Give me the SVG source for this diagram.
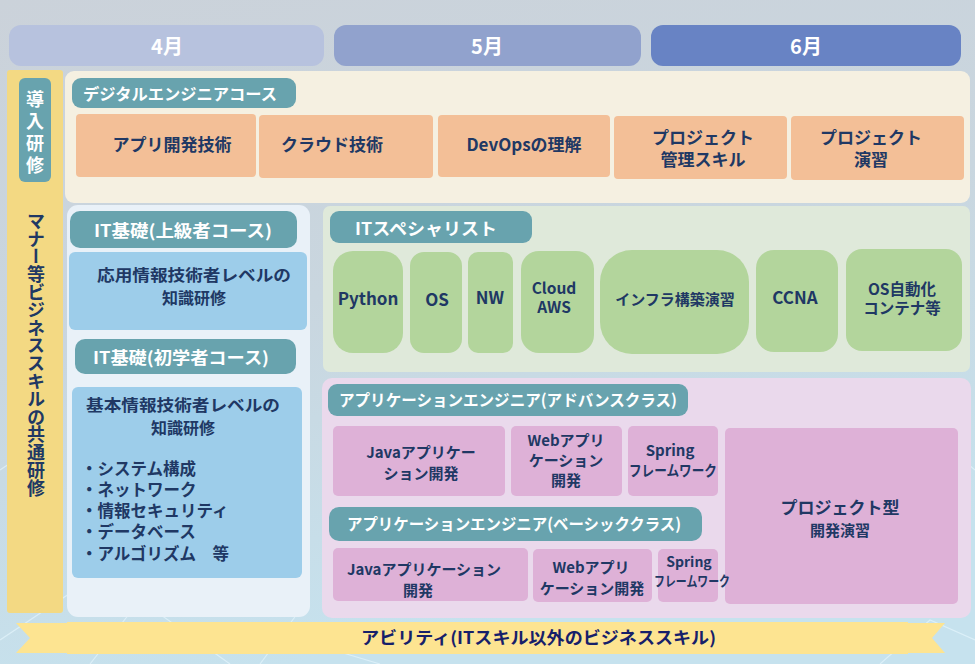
<svg xmlns="http://www.w3.org/2000/svg" width="975" height="664" viewBox="0 0 975 664">
<defs>
<linearGradient id="bg" x1="0" y1="0" x2="0.3" y2="1">
<stop offset="0" stop-color="#cbd2da"/>
<stop offset="0.5" stop-color="#c9d6df"/>
<stop offset="1" stop-color="#c6e2ee"/>
</linearGradient>
<style>
text{font-family:"Noto Sans CJK JP","Noto Sans",sans-serif;font-weight:bold;}
.nv{fill:#203864;font-size:16px;}
.wh{fill:#ffffff;font-size:16px;}
.c{text-anchor:middle;dominant-baseline:central;}
.l{dominant-baseline:central;}
.teal{fill:#68a3ae;}
.org{fill:#f3bf97;}
.grn{fill:#b3d59c;}
.pnk{fill:#deb1d7;}
.lb{fill:#9dcdea;}
.net{stroke:#eaf8ff;stroke-width:1.2;opacity:0.6;fill:none;}
</style>
</defs>
<rect x="0" y="0" width="975" height="664" fill="url(#bg)"/>
<g id="network">
<path class="net" d="M0 640 L120 560 L300 600 M0 470 L60 430 M90 664 L140 600 L230 664 M300 640 L380 664 M880 664 L930 620 L975 640 M940 440 L975 470 M260 664 L300 610"/>
</g>
<g id="months">
<rect x="9" y="25" width="315" height="41" rx="12" fill="#b7c2de"/>
<text class="wh c" x="167" y="45" style="font-size:20px">4月</text>
<rect x="334" y="25" width="307" height="41" rx="12" fill="#91a2cd"/>
<text class="wh c" x="487" y="45" style="font-size:20px">5月</text>
<rect x="651" y="25" width="310" height="41" rx="12" fill="#6883c4"/>
<text class="wh c" x="806" y="45" style="font-size:20px">6月</text>
</g>
<g id="common-training">
<rect x="7" y="70" width="56" height="543" rx="3" fill="#f3d983"/>
<rect x="19" y="78" width="32" height="104" rx="6" class="teal"/>
<text x="35" y="90" class="wh" style="font-size:18px;writing-mode:vertical-rl;letter-spacing:4px">導入研修</text>
<text x="36" y="212" class="nv" style="font-size:18px;writing-mode:vertical-rl;letter-spacing:-0.2px">マナー等ビジネススキルの共通研修</text>
</g>
<g id="digital-course">
<rect x="65" y="71" width="905" height="132" rx="9" fill="#f5f0e1"/>
<rect x="72" y="78" width="224" height="30" rx="9" class="teal"/>
<text class="wh l" x="83" y="93" textLength="194" lengthAdjust="spacingAndGlyphs">デジタルエンジニアコース</text>
</g>
<g id="d1"><rect x="76" y="114" width="180" height="63" rx="4" class="org"/><text class="nv c" x="172" y="143" style="font-size:17px">アプリ開発技術</text></g>
<g id="d2"><rect x="259" y="115" width="174" height="63" rx="4" class="org"/><text class="nv c" x="332" y="143" style="font-size:17px">クラウド技術</text></g>
<g id="d3"><rect x="438" y="115" width="172" height="62" rx="4" class="org"/><text class="nv c" x="524" y="143" style="font-size:17px">DevOpsの理解</text></g>
<g id="d4"><rect x="614" y="116" width="173" height="63" rx="4" class="org"/><text class="nv c" x="703" y="136" style="font-size:17px">プロジェクト</text><text class="nv c" x="703" y="158" style="font-size:17px">管理スキル</text></g>
<g id="d5"><rect x="791" y="116" width="173" height="64" rx="4" class="org"/><text class="nv c" x="871" y="136" style="font-size:17px">プロジェクト</text><text class="nv c" x="871" y="158" style="font-size:17px">演習</text></g>
<g id="it-basic">
<rect x="67" y="205" width="243" height="412" rx="11" fill="#e9f1f8"/>
</g>
<g id="it-adv-label"><rect x="70" y="211" width="227" height="37" rx="10" class="teal"/><text class="wh c" x="183" y="229" style="font-size:17px" textLength="178" lengthAdjust="spacingAndGlyphs">IT基礎(上級者コース)</text></g>
<g id="it-adv"><rect x="69" y="252" width="238" height="78" rx="6" class="lb"/><text class="nv c" x="194" y="274" textLength="194" lengthAdjust="spacingAndGlyphs">応用情報技術者レベルの</text><text class="nv c" x="194" y="297">知識研修</text></g>
<g id="it-beg-label"><rect x="75" y="339" width="221" height="35" rx="10" class="teal"/><text class="wh c" x="181" y="356" style="font-size:17px" textLength="176" lengthAdjust="spacingAndGlyphs">IT基礎(初学者コース)</text></g>
<g id="it-beg"><rect x="72" y="387" width="230" height="191" rx="6" class="lb"/>
<text class="nv c" x="183" y="404" textLength="194" lengthAdjust="spacingAndGlyphs">基本情報技術者レベルの</text>
<text class="nv c" x="183" y="427">知識研修</text>
<text class="nv l" x="81" y="468" style="font-size:16.5px">・システム構成</text>
<text class="nv l" x="81" y="489" style="font-size:16.5px">・ネットワーク</text>
<text class="nv l" x="81" y="510" style="font-size:16.5px">・情報セキュリティ</text>
<text class="nv l" x="81" y="531" style="font-size:16.5px">・データベース</text>
<text class="nv l" x="81" y="553" style="font-size:16.5px">・アルゴリズム　等</text>
</g>
<g id="specialist">
<rect x="323" y="206" width="647" height="166" rx="7" fill="#dfe9da"/>
<rect x="330" y="211" width="202" height="32" rx="9" class="teal"/>
<text class="wh l" x="355" y="227" style="font-size:17px" textLength="142" lengthAdjust="spacingAndGlyphs">ITスペシャリスト</text>
</g>
<g id="s1"><rect x="333" y="251" width="70" height="102" rx="20" class="grn"/><text class="nv c" x="368" y="297" style="font-size:17px">Python</text></g>
<g id="s2"><rect x="410" y="252" width="52" height="101" rx="14" class="grn"/><text class="nv c" x="437" y="298" style="font-size:17px">OS</text></g>
<g id="s3"><rect x="468" y="252" width="45" height="101" rx="10" class="grn"/><text class="nv c" x="490" y="296" style="font-size:17px">NW</text></g>
<g id="s4"><rect x="521" y="251" width="73" height="102" rx="18" class="grn"/><text class="nv c" x="554" y="287" style="font-size:15.5px">Cloud</text><text class="nv c" x="554" y="306" style="font-size:15.5px">AWS</text></g>
<g id="s5"><rect x="600" y="250" width="149" height="104" rx="32" class="grn"/><text class="nv c" x="675" y="298" style="font-size:15px">インフラ構築演習</text></g>
<g id="s6"><rect x="756" y="250" width="82" height="102" rx="18" class="grn"/><text class="nv c" x="795" y="296" style="font-size:17px">CCNA</text></g>
<g id="s7"><rect x="846" y="249" width="116" height="102" rx="16" class="grn"/><text class="nv c" x="902" y="288" style="font-size:15.5px">OS自動化</text><text class="nv c" x="902" y="307" style="font-size:15.5px">コンテナ等</text></g>
<g id="app-eng">
<rect x="322" y="378" width="649" height="240" rx="10" fill="#ead9ec"/>
</g>
<g id="adv-label"><rect x="328" y="384" width="360" height="32" rx="9" class="teal"/><text class="wh l" x="339" y="399" textLength="338" lengthAdjust="spacingAndGlyphs">アプリケーションエンジニア(アドバンスクラス)</text></g>
<g id="a1"><rect x="333" y="426" width="172" height="70" rx="5" class="pnk"/><text class="nv c" x="421" y="451" style="font-size:15px">Javaアプリケー</text><text class="nv c" x="421" y="472" style="font-size:15px">ション開発</text></g>
<g id="a2"><rect x="511" y="426" width="111" height="70" rx="5" class="pnk"/><text class="nv c" x="566" y="439" style="font-size:15px">Webアプリ</text><text class="nv c" x="566" y="459" style="font-size:15px">ケーション</text><text class="nv c" x="566" y="479" style="font-size:15px">開発</text></g>
<g id="a3"><rect x="628" y="426" width="90" height="70" rx="5" class="pnk"/><text class="nv c" x="670" y="449" style="font-size:15px">Spring</text><text class="nv c" x="673" y="469" style="font-size:15px" textLength="88" lengthAdjust="spacingAndGlyphs">フレームワーク</text></g>
<g id="a4"><rect x="725" y="428" width="233" height="176" rx="5" class="pnk"/><text class="nv c" x="840" y="506" style="font-size:17px">プロジェクト型</text><text class="nv c" x="840" y="529" style="font-size:15px">開発演習</text></g>
<g id="basic-label"><rect x="329" y="507" width="373" height="34" rx="10" class="teal"/><text class="wh l" x="347" y="523" textLength="334" lengthAdjust="spacingAndGlyphs">アプリケーションエンジニア(ベーシッククラス)</text></g>
<g id="b1"><rect x="333" y="548" width="195" height="53" rx="5" class="pnk"/><text class="nv c" x="424" y="568" style="font-size:15px">Javaアプリケーション</text><text class="nv c" x="418" y="589" style="font-size:15px">開発</text></g>
<g id="b2"><rect x="533" y="549" width="119" height="53" rx="5" class="pnk"/><text class="nv c" x="591" y="566" style="font-size:15px">Webアプリ</text><text class="nv c" x="592" y="587" style="font-size:15px">ケーション開発</text></g>
<g id="b3"><rect x="658" y="549" width="60" height="53" rx="5" class="pnk"/><text class="nv c" x="689" y="561" style="font-size:14px">Spring</text><text class="nv c" x="692" y="580" style="font-size:14px" textLength="76" lengthAdjust="spacingAndGlyphs">フレームワーク</text></g>
<g id="ability">
<polygon points="16,623 67,623 67,622 908,622 908,623 945,623 932,638 945,653 908,653 908,654 67,654 67,653 16,653 30,638" fill="#fde491"/>
<text x="361" y="636" class="l" style="font-size:17px;fill:#16206a" textLength="355" lengthAdjust="spacingAndGlyphs">アビリティ(ITスキル以外のビジネススキル)</text>
</g>
<g id="connectors"></g>
</svg>
